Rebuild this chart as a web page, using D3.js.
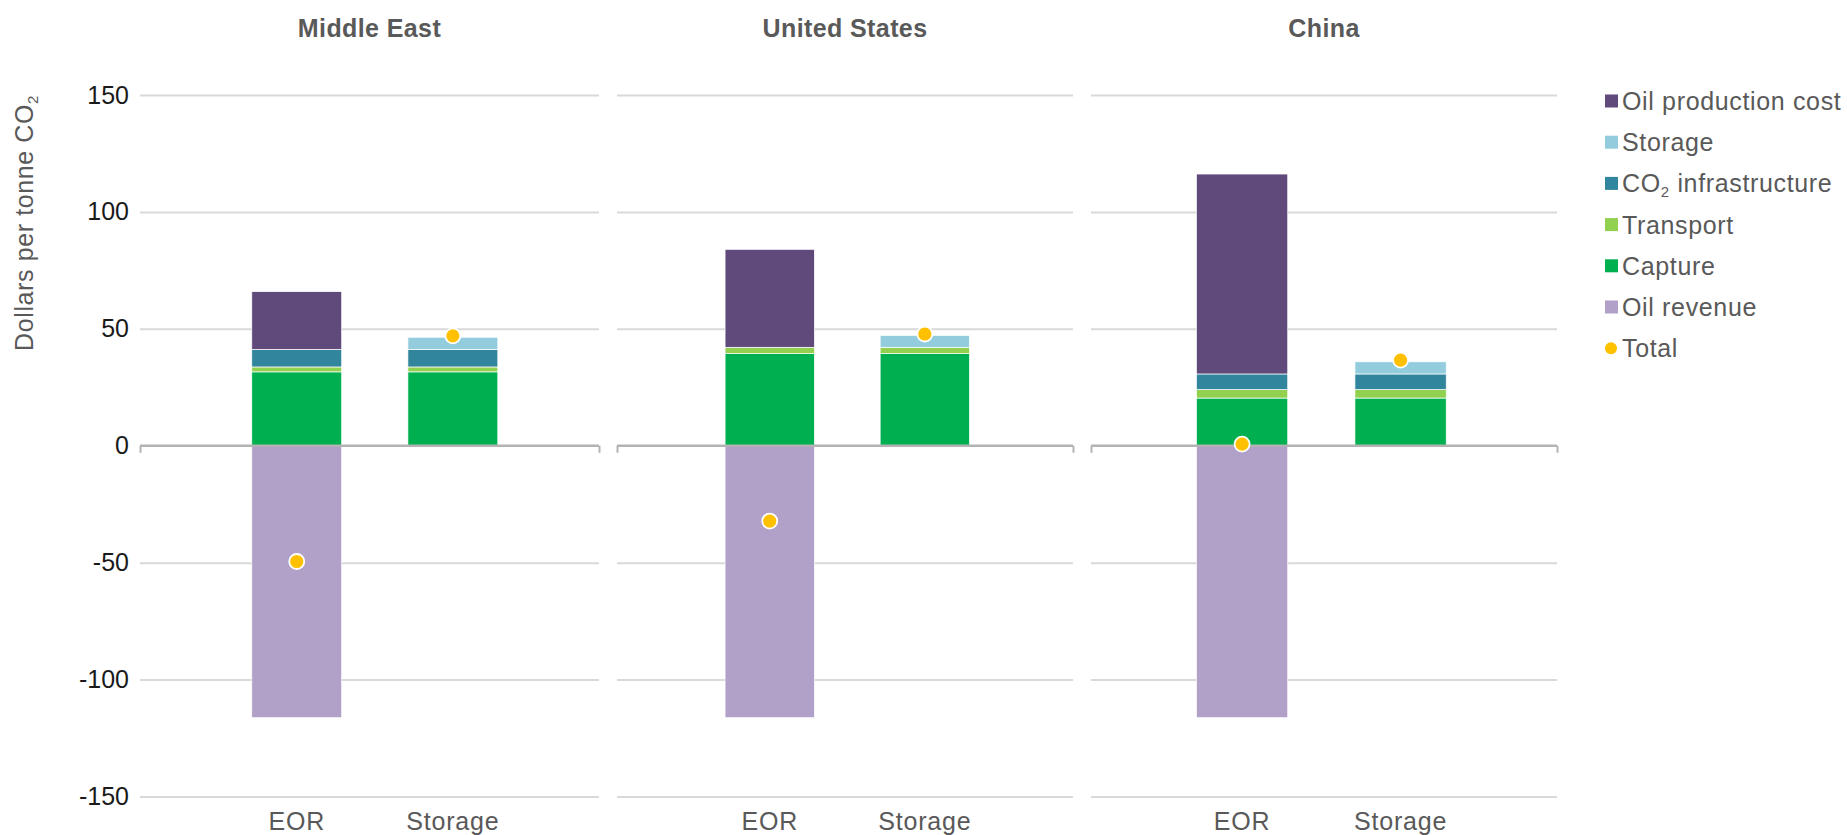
<!DOCTYPE html>
<html>
<head>
<meta charset="utf-8">
<script src="https://cdn.jsdelivr.net/npm/d3@7"></script>
<style>
  html, body { margin: 0; padding: 0; background: #fff; }
  svg { display: block; font-family: "Liberation Sans", Arial, sans-serif; }
</style>
</head>
<body>
<svg id="chart" width="1847" height="835"></svg>
<script>
// ---------- DATA ----------
const regions = ["Middle East", "United States", "China"];
const categories = ["EOR", "Storage"];
const yTicks = [-150, -100, -50, 0, 50, 100, 150];
// values per column: [ME-EOR, ME-Storage, US-EOR, US-Storage, CN-EOR, CN-Storage]
const capture        = [31.6, 31.6, 39.4, 39.4, 20.4, 20.4];
const transport      = [2.1, 2.1, 2.7, 2.7, 3.6, 3.6];
const co2Infra       = [7.5, 7.5, 0, 0, 6.7, 6.7];
const storageCost    = [0, 5.2, 0, 5.1, 0, 5.2];
const oilProduction  = [24.7, 0, 41.9, 0, 85.5, 0];
const oilRevenue     = [-116.3, 0, -116.3, 0, -116.3, 0];
const totals         = [-49.5, 47.0, -32.2, 47.8, 0.7, 36.6];

const seriesKeys   = ["capture", "transport", "co2Infra", "storage", "oilProduction", "oilRevenue"];
const seriesArrays = [capture, transport, co2Infra, storageCost, oilProduction, oilRevenue];
const seriesColors = ["#00b050", "#92d050", "#31859c", "#93cddd", "#604a7b", "#b1a0c7"];
const legendItems = [
  { label: "Oil production cost", key: "oilProduction" },
  { label: "Storage", key: "storage" },
  { label: "CO|2| infrastructure", key: "co2Infra" },
  { label: "Transport", key: "transport" },
  { label: "Capture", key: "capture" },
  { label: "Oil revenue", key: "oilRevenue" },
  { label: "Total", key: "total" }
];

// ---------- TABLE ----------
const rows = [];
regions.forEach((r, ri) => categories.forEach((c, ci) => {
  const idx = ri * categories.length + ci;
  const row = { region: r, category: c, total: totals[idx] };
  seriesKeys.forEach((k, si) => row[k] = seriesArrays[si][idx]);
  rows.push(row);
}));

// ---------- LAYOUT ----------
const svg = d3.select("#chart");
const panelRanges = [[140, 599], [617, 1073], [1091, 1557]];
const barShift = [3, 0, -5];
const y = d3.scaleLinear().domain([-150, 150]).range([796.5, 95]);
const color = d3.scaleOrdinal().domain(seriesKeys).range(seriesColors);
const stacked = d3.stack().keys(seriesKeys).offset(d3.stackOffsetDiverging)(rows);

const textGray = "#595959";
const ls = 0.6;

// y axis labels
const yAxis = d3.axisLeft(y).tickValues(yTicks).tickSize(0).tickPadding(0).tickFormat(d => String(d));
const yg = svg.append("g").attr("transform", "translate(129,0)").call(yAxis);
yg.select(".domain").remove();
yg.selectAll("text").attr("font-size", 25).attr("fill", "#1a1a1a")
  .attr("font-family", "'Liberation Sans', Arial, sans-serif");

// y axis title
const yt = svg.append("text")
  .attr("transform", "translate(33,223) rotate(-90)")
  .attr("text-anchor", "middle")
  .attr("font-size", 25)
  .attr("letter-spacing", ls)
  .attr("fill", textGray);
yt.append("tspan").text("Dollars per tonne CO");
yt.append("tspan").text("2").attr("font-size", 15).attr("dy", 5);

regions.forEach((region, ri) => {
  const [x0, x1] = panelRanges[ri];
  const w = x1 - x0;
  const s = barShift[ri];
  const x = d3.scaleBand().domain(categories)
    .range([x0 + 0.237 * w + s, x0 + 0.773 * w + s]).paddingInner(0.424).paddingOuter(0);
  const g = svg.append("g");

  // gridlines
  const grid = d3.axisLeft(y).tickValues(yTicks.filter(t => t !== 0)).tickSize(-(w)).tickFormat("");
  const gg = g.append("g").attr("transform", `translate(${x0},0)`).call(grid);
  gg.select(".domain").remove();
  gg.selectAll("line").attr("stroke", "#d9d9d9").attr("stroke-width", 2);

  // title
  g.append("text").attr("x", (x0 + x1) / 2).attr("y", 37)
    .attr("text-anchor", "middle").attr("font-size", 25).attr("font-weight", "bold")
    .attr("letter-spacing", 0.4)
    .attr("fill", textGray).text(region);

  // bars
  const panelRows = rows.filter(r => r.region === region);
  stacked.forEach((layer) => {
    g.append("g").attr("fill", color(layer.key))
      .selectAll("rect")
      .data(layer.filter(d => d.data.region === region && d[1] !== d[0]))
      .join("rect")
      .attr("x", d => x(d.data.category))
      .attr("width", x.bandwidth())
      .attr("y", d => y(Math.max(d[0], d[1])))
      .attr("height", d => Math.abs(y(d[0]) - y(d[1])))
      .attr("stroke", "#fff").attr("stroke-width", 0.7);
  });

  // zero axis + end ticks
  const xAxis = d3.axisBottom(d3.scaleLinear().domain([0, 1]).range([x0, x1]))
    .tickValues([0, 1]).tickSize(7).tickFormat("");
  const xg = g.append("g").attr("transform", `translate(0,${y(0)})`).call(xAxis);
  xg.select(".domain").attr("stroke", "#b3b3b3").attr("stroke-width", 2.5)
    .attr("d", `M${x0},0H${x1}`);
  xg.selectAll(".tick line").attr("stroke", "#b3b3b3").attr("stroke-width", 2);

  // category labels
  g.selectAll("text.cat").data(categories).join("text").attr("class", "cat")
    .attr("x", d => x(d) + x.bandwidth() / 2).attr("y", 830)
    .attr("text-anchor", "middle").attr("font-size", 25).attr("fill", textGray)
    .attr("letter-spacing", 0.8)
    .text(d => d);

  // totals
  g.selectAll("circle.total").data(panelRows).join("circle").attr("class", "total")
    .attr("cx", d => x(d.category) + x.bandwidth() / 2)
    .attr("cy", d => y(d.total))
    .attr("r", 7.5)
    .attr("fill", "#ffc000").attr("stroke", "#fff").attr("stroke-width", 1.8);
});

// legend
const lg = svg.append("g");
legendItems.forEach((item, i) => {
  const cy = 101 + i * 41.2;
  if (item.key === "total") {
    lg.append("circle").attr("cx", 1611).attr("cy", cy).attr("r", 6).attr("fill", "#ffc000");
  } else {
    lg.append("rect").attr("x", 1605).attr("y", cy - 6.5).attr("width", 13).attr("height", 13)
      .attr("fill", color(item.key));
  }
  const t = lg.append("text").attr("x", 1622).attr("y", cy + 9)
    .attr("font-size", 25).attr("letter-spacing", 0.65).attr("fill", textGray);
  const parts = item.label.split("|");
  parts.forEach((p, pi) => {
    if (pi === 1) t.append("tspan").text(p).attr("font-size", 15).attr("dy", 5);
    else if (pi === 2) t.append("tspan").text(p).attr("dy", -5);
    else t.append("tspan").text(p);
  });
});
</script>
</body>
</html>
